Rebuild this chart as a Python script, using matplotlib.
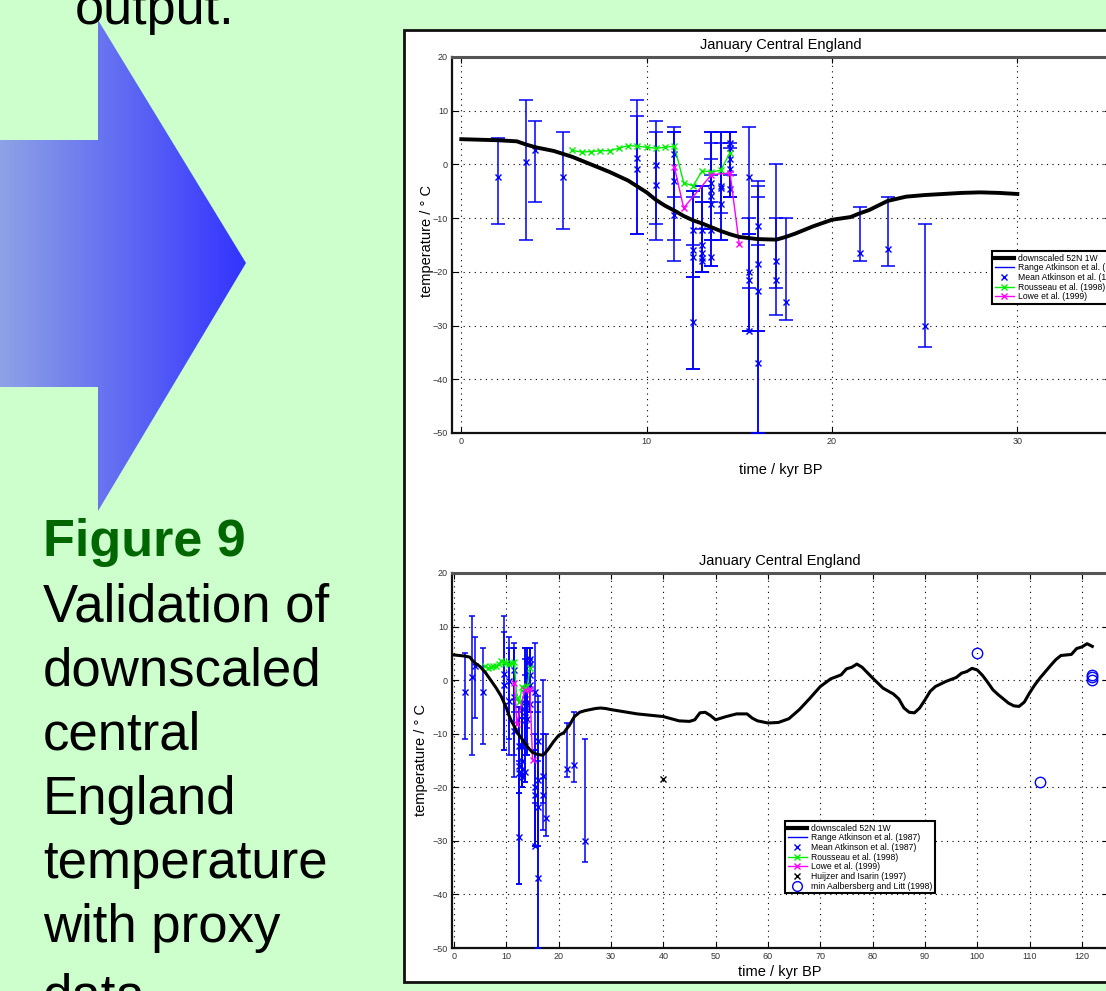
import numpy as np
import matplotlib
matplotlib.use('Agg')
from matplotlib import pyplot as plt
from matplotlib.patches import Polygon, Rectangle
from matplotlib.lines import Line2D
from matplotlib.colors import LinearSegmentedColormap

plt.rcParams['font.family'] = ['Liberation Sans', 'DejaVu Sans']

# downscaled 52N 1W model curve
model_time = [0, 2, 3, 3.5, 4, 5, 6, 7, 8, 9, 10, 10.5, 11, 11.5, 12, 12.5, 13, 13.5,
              14, 14.5, 15, 15.5, 16, 17, 17.5, 18, 19, 20, 21, 21.5, 22, 23, 24,
              25, 26, 27, 28, 29, 30, 35, 40, 43, 45, 46, 47, 48, 49, 50, 52, 54,
              56, 57, 58, 60, 62, 64, 66, 68, 70, 72, 73.5, 74, 75, 76, 77, 78, 80,
              82, 84, 85, 86, 87, 88, 89, 90, 91, 92, 94, 96, 97, 98, 99, 100, 101,
              102, 103, 104, 106, 107, 108, 109, 110, 111, 112, 114, 115, 116, 117,
              118, 119, 120, 121, 122]
model_temp = [4.7, 4.5, 4.3, 3.7, 3.2, 2.5, 1.4, 0.0, -1.4, -3.0, -5.2, -6.6, -7.7,
              -8.6, -9.6, -10.4, -11.0, -11.7, -12.4, -13.0, -13.5, -13.7, -13.9,
              -14.0, -13.5, -12.9, -11.5, -10.3, -9.8, -9.1, -8.5, -6.8, -6.0, -5.7,
              -5.5, -5.3, -5.2, -5.3, -5.5, -6.3, -6.8, -7.6, -7.7, -7.4, -6.1, -6.0,
              -6.6, -7.4, -6.8, -6.3, -6.3, -7.1, -7.6, -8.0, -7.9, -7.2, -5.5, -3.4,
              -1.2, 0.25, 0.8, 1.0, 2.1, 2.4, 3.0, 2.4, 0.4, -1.5, -2.6, -3.5, -5.2,
              -6.0, -6.1, -5.2, -3.7, -2.1, -1.2, -0.25, 0.5, 1.3, 1.6, 2.2, 1.9, 0.9,
              -0.4, -1.8, -2.7, -4.3, -4.8, -4.9, -4.1, -2.4, -0.9, 0.4, 2.7, 3.8, 4.6,
              4.7, 4.8, 5.9, 6.2, 6.8, 6.3]

# Atkinson et al. (1987): time, mean, range low, range high
atk_time = [2.0, 3.5, 4.0, 5.5, 9.5, 9.5, 10.5, 10.5, 11.5, 11.5, 11.5, 12.5, 12.5,
            12.5, 12.5, 13.0, 13.0, 13.0, 13.0, 13.0, 13.5, 13.5, 13.5, 13.5, 13.5,
            13.5, 14.0, 14.0, 14.0, 14.5, 14.5, 14.5, 14.5, 14.5, 15.5, 15.5, 15.5,
            15.5, 16.0, 16.0, 16.0, 16.0, 17.0, 17.0, 17.5, 21.5, 23.0, 25.0]
atk_mean = [-2.3, 0.5, 2.6, -2.3, 1.2, -0.9, -0.1, -3.9, 1.9, -3.1, -9.5, -12.3,
            -16.0, -17.3, -29.3, -12.3, -15.0, -16.5, -17.5, -18.0, -3.5, -4.8, -5.9,
            -7.4, -12.2, -17.2, -4.0, -4.3, -7.3, 4.0, 3.1, 1.0, -0.9, -4.5, -2.3,
            -20.0, -21.5, -31.0, -11.4, -18.6, -23.6, -37.0, -17.9, -21.5, -25.7,
            -16.5, -15.8, -30.0]
atk_low = [-11, -14, -7, -12, -13, -13, -14, -11, -6, -14, -18, -21, -38, -21, -38,
           -20, -20, -20, -20, -20, -12, -14, -12, -14, -19, -19, -14, -9, -14, -6,
           -2, -6, -6, -6, -13, -31, -31, -31, -31, -50, -31, -50, -28, -23, -29,
           -18, -19, -34]
atk_high = [5, 12, 8, 6, 12, 9, 8, 6, 7, 6, 6, -5, -6, -5, -15, -4, -7, -12, -4, -7,
            6, 4, 1, -2, 6, -7, 6, 4, 6, 6, 6, 4, 6, 3, 7, -10, -13, -23, -3, -4, -6,
            -15, 0, -10, -10, -8, -6, -11]

# Rousseau et al. (1998)
rou_time = [6.0, 6.5, 7.0, 7.5, 8.0, 8.5, 9.0, 9.5, 10.0, 10.5, 11.0, 11.5, 12.0,
            12.5, 13.0, 13.5, 14.0, 14.5]
rou_temp = [2.6, 2.3, 2.4, 2.55, 2.55, 3.0, 3.5, 3.4, 3.2, 3.0, 3.2, 3.4, -3.4, -4.0,
            -1.2, -1.4, -1.1, 2.2]

# Lowe et al. (1999)
lowe_time = [11.5, 12.0, 13.5, 14.5, 15.0]
lowe_temp = [-0.5, -8.1, -1.9, -1.6, -14.9]

# Huijzer and Isarin (1997)
hui_time = [40]
hui_temp = [-18.5]

# min Aalbersberg and Litt (1998)
aal_time = [100, 112, 122, 122, 122]
aal_temp = [5.0, -19.0, 1.0, 0.5, 0.0]

caption = ['Validation of', 'downscaled', 'central', 'England', 'temperature',
           'with proxy', 'data']

W, H = 1106, 991
fig = plt.figure(figsize=(W / 100, H / 100), dpi=100)
fig.patch.set_facecolor('#ccffcc')

# background layer in pixel coordinates
bg = fig.add_axes([0, 0, 1, 1], zorder=-1)
bg.axis('off')

arrow = Polygon([(0, 140), (98, 140), (98, 20), (246, 263), (98, 511), (98, 387), (0, 387)],
                closed=True, facecolor='none', edgecolor='none')
bg.add_patch(arrow)
cmap = LinearSegmentedColormap.from_list('arr', ['#8ea2e6', '#3333ff'])
grad = np.linspace(0, 1, 256).reshape(1, -1)
im = bg.imshow(grad, cmap=cmap, extent=(0, 246, 511, 20), aspect='auto', zorder=1)
im.set_clip_path(arrow)
bg.set_xlim(0, W)
bg.set_ylim(H, 0)

bg.text(75, 24, 'output.', fontsize=37.5, color='black', zorder=3)
bg.text(43, 556, 'Figure 9', fontsize=37.5, fontweight='bold', color='#006600', zorder=3)
for i, line in enumerate(caption):
    bg.text(43, 622 + 64 * i + (6 if i == 6 else 0), line, fontsize=38, color='black',
            zorder=3)

bg.add_patch(Rectangle((404, 30), 760, 952, facecolor='white', edgecolor='#111111',
                       linewidth=2, zorder=2))


def style_axes(ax, xticks, xlim):
    ax.set_yticks(np.arange(-50, 21, 10))
    ax.set_xticks(xticks)
    ax.set_xlim(*xlim)
    ax.set_ylim(-50, 20)
    ax.grid(True, linestyle=(0, (1, 4)), color='black', linewidth=0.8)
    ax.tick_params(direction='in', top=True, right=True, length=4, labelsize=6.5,
                   labelcolor='#333333', pad=3)
    for s in ['left', 'bottom', 'right']:
        ax.spines[s].set_linewidth(1.6)
        ax.spines[s].set_color('#111111')
    ax.spines['top'].set_linewidth(2.2)
    ax.spines['top'].set_color('#555555')
    ax.set_title('January Central England', fontsize=10.5, pad=6)
    ax.set_xlabel('time / kyr BP', fontsize=10.5)
    ax.set_ylabel('temperature / ° C', fontsize=10.5)


def draw_data(ax, cap, lw_model, tmax):
    atk_mean_arr = np.array(atk_mean)
    yerr = [atk_mean_arr - np.array(atk_low), np.array(atk_high) - atk_mean_arr]
    ax.errorbar(atk_time, atk_mean, yerr=yerr, fmt='none', ecolor='blue',
                elinewidth=1.1, capsize=cap, capthick=1.1, zorder=3)
    ax.plot(atk_time, atk_mean, 'x', color='blue', markersize=5, zorder=4)
    ax.plot(rou_time, rou_temp, '-x', color='#00ee00', linewidth=1, markersize=5, zorder=5)
    ax.plot(lowe_time, lowe_temp, '-x', color='#ff00ff', linewidth=1, markersize=5, zorder=5)
    mt = np.array(model_time)
    keep = mt <= tmax
    ax.plot(mt[keep], np.array(model_temp)[keep], color='black', linewidth=lw_model,
            zorder=6)


handles = [
    Line2D([], [], color='black', linewidth=3),
    Line2D([], [], color='blue', linewidth=1),
    Line2D([], [], color='blue', marker='x', linestyle='none', markersize=5),
    Line2D([], [], color='#00ee00', marker='x', linewidth=1, markersize=5),
    Line2D([], [], color='#ff00ff', marker='x', linewidth=1, markersize=5),
    Line2D([], [], color='black', marker='x', linestyle='none', markersize=5),
    Line2D([], [], color='blue', marker='o', linestyle='none', markersize=7,
           markerfacecolor='none'),
]
labels = ['downscaled 52N 1W', 'Range Atkinson et al. (1987)', 'Mean Atkinson et al. (1987)',
          'Rousseau et al. (1998)', 'Lowe et al. (1999)', 'Huijzer and Isarin (1997)',
          'min Aalbersberg and Litt (1998)']
leg_kw = dict(loc='upper left', bbox_transform=fig.transFigure, fontsize=6.2,
              frameon=True, fancybox=False, framealpha=1, edgecolor='black',
              borderpad=0.3, borderaxespad=0, labelspacing=0.08, handlelength=2.2,
              handletextpad=0.5)

# top panel: 0-35 kyr
ax1 = fig.add_axes([452 / W, 1 - 433 / H, 658 / W, 376 / H])
draw_data(ax1, 5, 2.8, 30)
style_axes(ax1, np.arange(0, 31, 10), (-0.5, 35))
ax1.yaxis.set_label_coords(-0.027, 0.51)
ax1.xaxis.set_label_coords(0.5, -0.098)
ax1.xaxis.label.set_va('center')
leg1 = ax1.legend(handles[:5], labels[:5], bbox_to_anchor=(992 / W, 1 - 251 / H), **leg_kw)
leg1.get_frame().set_linewidth(1.5)

# bottom panel: 0-125 kyr
ax2 = fig.add_axes([452 / W, 1 - 948 / H, 656 / W, 375 / H])
draw_data(ax2, 2, 2.2, 130)
ax2.plot(hui_time, hui_temp, 'x', color='black', markersize=5, zorder=5)
ax2.plot(aal_time, aal_temp, 'o', color='blue', markerfacecolor='none', markersize=7.5,
         zorder=5)
style_axes(ax2, np.arange(0, 121, 10), (-0.4, 125))
ax2.yaxis.set_label_coords(-0.037, 0.5)
ax2.xaxis.set_label_coords(0.5, -0.064)
ax2.xaxis.label.set_va('center')
leg2 = ax2.legend(handles, labels, bbox_to_anchor=(785 / W, 1 - 821 / H), **leg_kw)
leg2.get_frame().set_linewidth(1.5)

fig.savefig('out.png', dpi=100, facecolor=fig.get_facecolor())
